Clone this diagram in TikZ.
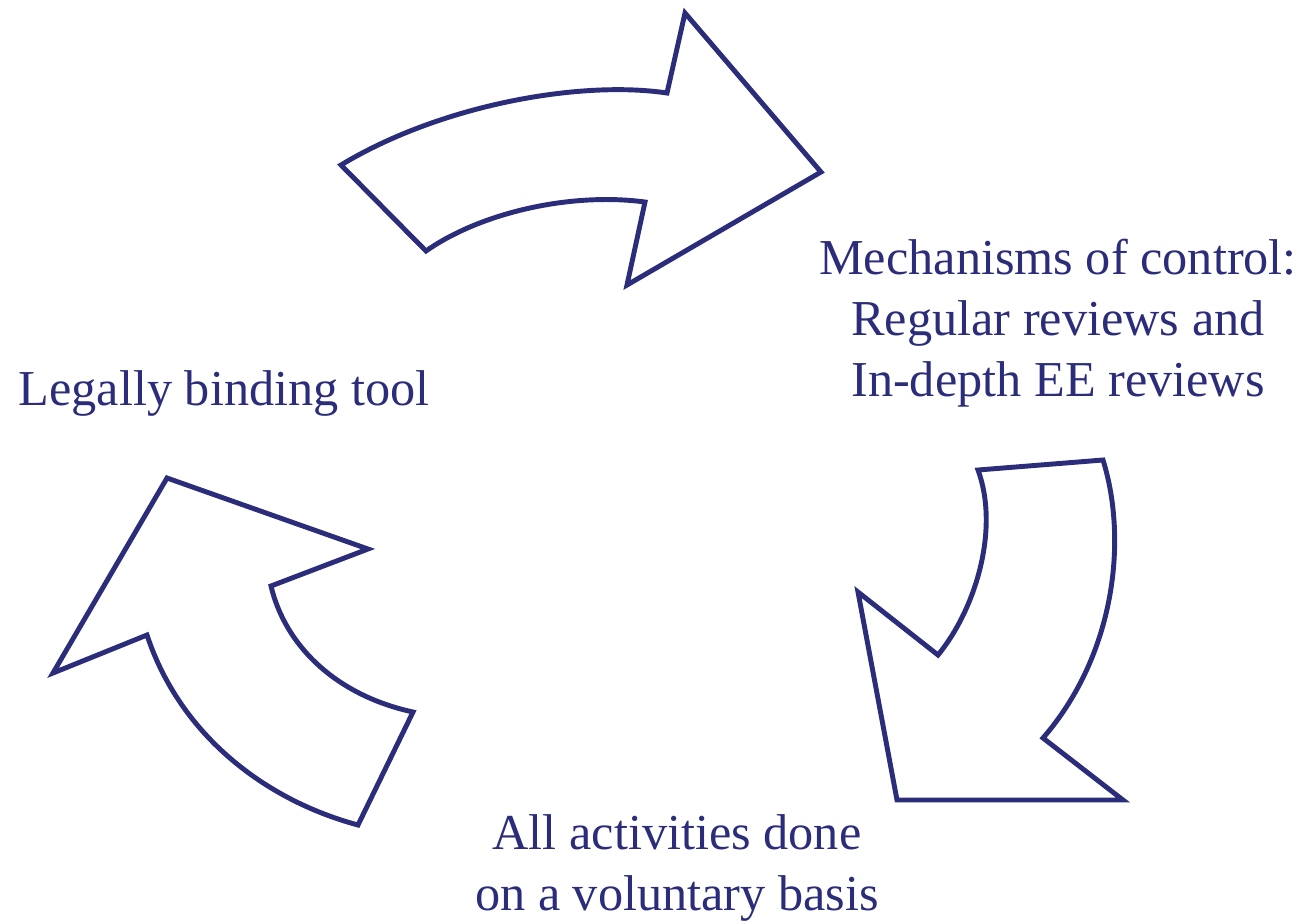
\documentclass[tikz,border=0pt]{standalone}
\usepackage{fontspec}
\setmainfont{Liberation Serif}
\definecolor{cyclenavy}{RGB}{43,45,122}
\begin{document}
\begin{tikzpicture}
[x=0.01cm,y=-0.01cm,
  arrowshape/.style={draw=cyclenavy,line width=1.4pt,line join=miter},%
  labeltext/.style={text=cyclenavy,inner sep=0pt,align=center,font=\fontsize{14.3}{17.4}\selectfont}]
\useasboundingbox (0,0) rectangle (1305,923);
% arrows
\draw[arrowshape] (341,165) .. controls (440,105) and (580,80) .. (667,93)
  -- (685,13) -- (821,172) -- (627,285) -- (645,202)
  .. controls (570,192) and (480,213) .. (426,251) -- cycle;
\draw[arrowshape] (978,470) -- (1103,460)
  .. controls (1128,540) and (1115,655) .. (1043,738)
  -- (1123,800) -- (897,800) -- (858,592) -- (938,655)
  .. controls (975,610) and (1000,530) .. cycle;
\draw[arrowshape] (413,712) -- (358,825)
  .. controls (265,800) and (180,735) .. (147,635)
  -- (53,673) -- (167,478) -- (368,549) -- (271,586)
  .. controls (285,645) and (335,695) .. cycle;
% labels
\node (control) at (1058,323) [labeltext] {Mechanisms of control:\\Regular reviews and\\In-depth EE reviews};
\node (legal) at (224,405) [labeltext,anchor=base] {Legally binding tool};
\node (voluntary) at (677,868) [labeltext] {All activities done\ \\on a voluntary basis};
\end{tikzpicture}
\end{document}
